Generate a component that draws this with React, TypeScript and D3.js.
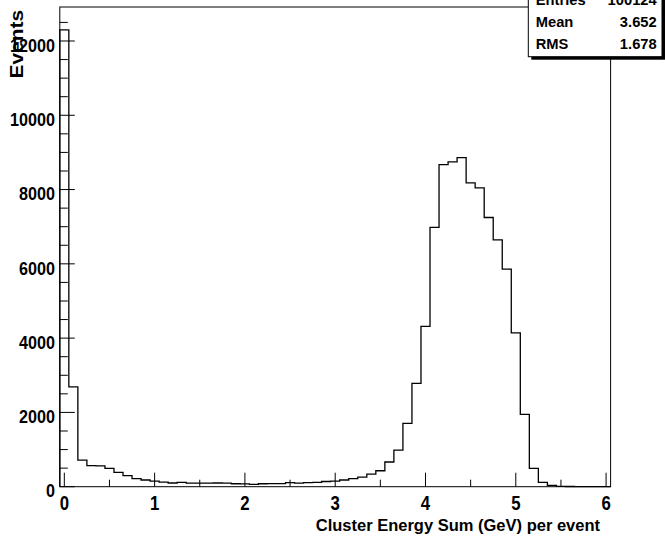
import React from "react";
import * as d3 from "d3";

const binLow = -0.05;
const binWidth = 0.1;
const counts: number[] = [
  12300, 2690, 718, 570, 560, 495, 387, 296, 215, 180,
  150, 125, 100, 115, 95, 95, 95, 100, 95, 80,
  75, 60, 80, 85, 85, 110, 95, 110, 115, 140,
  150, 180, 215, 260, 340, 430, 665, 987, 1705, 2780,
  4315, 6980, 8673, 8745, 8862, 8180, 8045, 7248, 6647, 5857,
  4143, 1947, 495, 117, 36, 10, 5, 2, 1, 0,
  0,
];
const xMajorTicks = [0, 1, 2, 3, 4, 5, 6];
const xMinorTicks = [0.5, 1.5, 2.5, 3.5, 4.5, 5.5];
const yMajorTicks = [0, 2000, 4000, 6000, 8000, 10000, 12000];
const yMinorStep = 500;
const statsLabels = ["Entries", "Mean", "RMS"];
const statsValues = ["100124", "3.652", "1.678"];
const xTitle = "Cluster Energy Sum (GeV) per event";
const yTitle = "Events";

const font = "'Liberation Sans', Arial, Helvetica, sans-serif";

function NText(props: { x: number; y: number; anchor: "start" | "middle" | "end"; size: number; sx: number; rotate?: number; children: React.ReactNode }) {
  const { x, y, anchor, size, sx, rotate, children } = props;
  const tr = `translate(${x},${y})` + (rotate ? ` rotate(${rotate})` : "") + ` scale(${sx},1)`;
  return (
    <text transform={tr} textAnchor={anchor} fontFamily={font} fontWeight="bold" fontSize={size} fill="#000">
      {children}
    </text>
  );
}

export default function App() {
  const W = 665, H = 542;
  const left = 59.8, right = 610.6, top = 7, bottom = 486.7;
  const xMax = binLow + binWidth * counts.length;
  const yMax = d3.max(counts)! * 1.05;
  const x = d3.scaleLinear().domain([binLow, xMax]).range([left, right]);
  const y = d3.scaleLinear().domain([0, yMax]).range([bottom, top]);

  const pts: [number, number][] = [[binLow, 0]];
  counts.forEach((c, i) => {
    const lo = binLow + i * binWidth;
    pts.push([lo, c]);
    pts.push([lo + binWidth, c]);
  });
  pts.push([xMax, 0]);
  const line = d3.line<[number, number]>().x(d => x(d[0])).y(d => y(d[1]));

  const yMinor = d3.range(0, yMax, yMinorStep).filter(v => !yMajorTicks.includes(v));

  const boxL = 528.3, boxT = -20, boxR = 662, boxB = 56.7;

  return (
    <svg width={W} height={H} style={{ position: "absolute", left: 0, top: 0, background: "#fff" }}>
      <rect x={0} y={0} width={W} height={H} fill="#fff" />
      {/* frame */}
      <rect x={left} y={top} width={right - left} height={bottom - top} fill="none" stroke="#000" strokeWidth={1} />
      {/* histogram */}
      <path d={line(pts)!} fill="none" stroke="#000" strokeWidth={1.3} />
      {/* x ticks */}
      {xMajorTicks.map(t => (
        <line key={"xM" + t} x1={x(t)} x2={x(t)} y1={bottom} y2={bottom - 14} stroke="#000" strokeWidth={1} />
      ))}
      {xMinorTicks.map(t => (
        <line key={"xm" + t} x1={x(t)} x2={x(t)} y1={bottom} y2={bottom - 7} stroke="#000" strokeWidth={1} />
      ))}
      {xMajorTicks.map(t => (
        <NText key={"xl" + t} x={x(t)} y={510} anchor="middle" size={20} sx={0.84}>{t}</NText>
      ))}
      {/* y ticks */}
      {yMajorTicks.map(t => (
        <line key={"yM" + t} x1={left} x2={left + 15} y1={y(t)} y2={y(t)} stroke="#000" strokeWidth={1} />
      ))}
      {yMinor.map(t => (
        <line key={"ym" + t} x1={left} x2={left + 8} y1={y(t)} y2={y(t)} stroke="#000" strokeWidth={1} />
      ))}
      {yMajorTicks.map(t => (
        <NText key={"yl" + t} x={55} y={y(t) + 10.7} anchor="end" size={19} sx={0.85}>{t}</NText>
      ))}
      {/* axis titles */}
      <text x={600} y={530.7} textAnchor="end" fontFamily={font} fontWeight="bold" fontSize={16.5} fill="#000">
        {xTitle}
      </text>
      <NText x={22.7} y={10} anchor="end" size={19} sx={1.1} rotate={-90}>{yTitle}</NText>
      {/* stats box */}
      <rect x={boxL + 3} y={boxT + 3} width={boxR - boxL} height={boxB - boxT} fill="#000" />
      <rect x={boxL} y={boxT} width={boxR - boxL} height={boxB - boxT} fill="#fff" stroke="#000" strokeWidth={1} />
      {statsLabels.map((s, i) => (
        <g key={s}>
          <NText x={535.7} y={4.5 + i * 22} anchor="start" size={15.5} sx={0.95}>{s}</NText>
          <NText x={656.7} y={4.5 + i * 22} anchor="end" size={15.5} sx={0.95}>{statsValues[i]}</NText>
        </g>
      ))}
    </svg>
  );
}
